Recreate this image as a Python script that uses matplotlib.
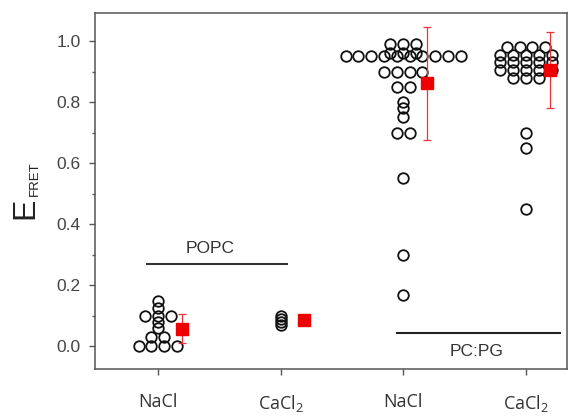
import matplotlib
matplotlib.use('Agg')
import matplotlib.pyplot as plt
from matplotlib.ticker import MultipleLocator
import numpy as np

# ---------------- data ----------------
categories = ['NaCl', 'CaCl$_\\mathregular{2}$', 'NaCl', 'CaCl$_\\mathregular{2}$']
positions = [1, 2, 3, 4]

popc_nacl = [0.15, 0.125, 0.10, 0.10, 0.10, 0.08, 0.06, 0.03, 0.03,
             0.0, 0.0, 0.0, 0.0]
popc_cacl2 = [0.10, 0.09, 0.08, 0.07]
pcpg_nacl = [0.99, 0.99, 0.99,
             0.96, 0.96, 0.96,
             0.95, 0.95, 0.95, 0.95, 0.95, 0.95, 0.95, 0.95, 0.95, 0.95,
             0.90, 0.90, 0.90, 0.90,
             0.85, 0.85, 0.80, 0.78, 0.75, 0.70, 0.70,
             0.55, 0.30, 0.17]
pcpg_cacl2 = [0.98, 0.98, 0.98, 0.98,
              0.955, 0.955, 0.955, 0.955, 0.955,
              0.93, 0.93, 0.93, 0.93, 0.93,
              0.905, 0.905, 0.905, 0.905, 0.905,
              0.88, 0.88, 0.88,
              0.70, 0.65, 0.45]
groups = [popc_nacl, popc_cacl2, pcpg_nacl, pcpg_cacl2]

means = [0.058, 0.088, 0.862, 0.905]
errors = [0.048, 0.008, 0.185, 0.125]

yticks = [0.0, 0.2, 0.4, 0.6, 0.8, 1.0]
group_labels = ['POPC', 'PC:PG']

# ---------------- style ----------------
plt.rcParams['mathtext.fontset'] = 'custom'
plt.rcParams['mathtext.rm'] = 'Open Sans'

W, H = 579, 417
fig = plt.figure(figsize=(W / 100, H / 100), dpi=100)
xlim = (0.49, 4.33)
ylim = (-0.075, 1.09)
ax_left, ax_right = 95.1, 566.6
ax_top, ax_bot = 13.5, 369.4
ax = fig.add_axes([ax_left / W, 1 - ax_bot / H,
                   (ax_right - ax_left) / W, (ax_bot - ax_top) / H])
ax.set_xlim(*xlim)
ax.set_ylim(*ylim)

px_per_unit = (ax_right - ax_left) / (xlim[1] - xlim[0])
dx = 12.8 / px_per_unit

for pos, vals in zip(positions, groups):
    xs, ys = [], []
    uniq = sorted(set(vals), reverse=True)
    for v in uniq:
        n = vals.count(v)
        offs = (np.arange(n) - (n - 1) / 2) * dx
        xs.extend(pos + offs)
        ys.extend([v] * n)
    ax.plot(xs, ys, linestyle='none', marker='o', markersize=7.6,
            markerfacecolor='none', markeredgecolor='#111111',
            markeredgewidth=1.3, zorder=3)

mean_x = [p + 0.195 for p in positions]
ax.errorbar(mean_x, means, yerr=errors, fmt='none', ecolor='#e8343c',
            elinewidth=0.9, capsize=3, capthick=0.9, zorder=4)
ax.plot(mean_x, means, linestyle='none', marker='s', markersize=8.5,
        color='#ee0000', markeredgecolor='#ee0000', zorder=5)

# group annotation lines
ax.plot([0.913, 2.05], [0.27, 0.27], color='#333333', lw=1.5, zorder=2)
ax.text(1.43, 0.32, group_labels[0], ha='center', va='center',
        fontsize=12.5, color='#333333', family='Liberation Sans')
ax.plot([2.95, 4.28], [0.045, 0.045], color='#222222', lw=1.5, zorder=2)
ax.text(3.6, -0.018, group_labels[1], ha='center', va='center',
        fontsize=12.5, color='#333333', family='Liberation Sans')

# axes styling
for s in ax.spines.values():
    s.set_color('#555555')
    s.set_linewidth(1.1)
ax.set_xticks(positions)
ax.set_xticklabels(categories, fontsize=13, color='#333333',
                   family='Open Sans')
ax.set_yticks(yticks)
ax.set_yticklabels(['%.1f' % t for t in yticks], fontsize=12.5,
                   color='#444444', family='Liberation Sans')
ax.yaxis.set_minor_locator(MultipleLocator(0.1))
ax.tick_params(axis='y', which='major', direction='out', length=4.5,
               width=1, color='#555555', pad=6)
ax.tick_params(axis='y', which='minor', direction='out', length=2.2,
               width=1, color='#555555')
ax.tick_params(axis='x', which='major', direction='out', length=4,
               width=1, color='#555555', pad=13)

# y label E_FRET
fig.text(25 / W, 1 - 208 / H, 'E', rotation=90, ha='center', va='center',
         fontsize=23, color='#222222', family='Liberation Sans')
fig.text(35 / W, 1 - 179 / H, 'FRET', rotation=90, ha='center',
         va='center', fontsize=9.5, color='#222222', family='Liberation Sans')

fig.savefig('out.png', dpi=100)
